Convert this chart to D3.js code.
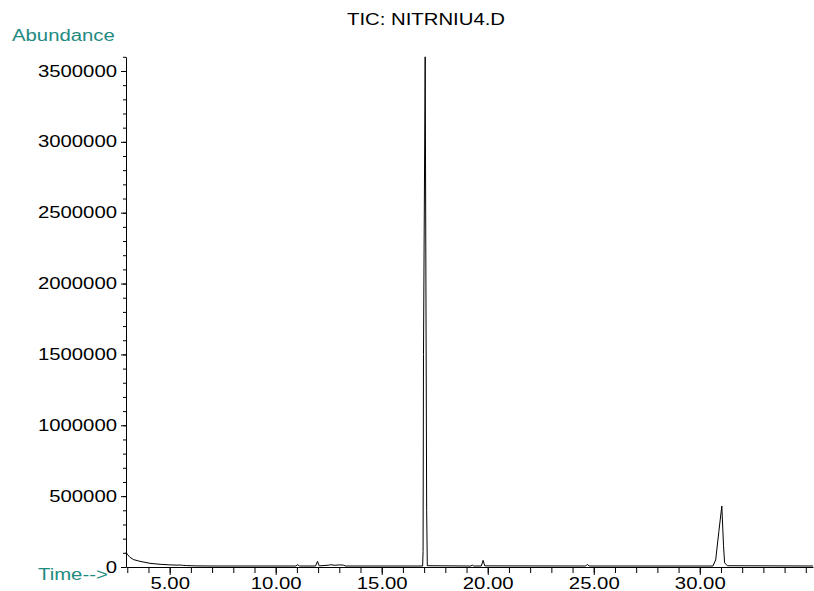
<!DOCTYPE html>
<html>
<head>
<meta charset="utf-8">
<script src="https://cdn.jsdelivr.net/npm/d3@7"></script>
<style>
  body { margin: 0; background: #fff; }
  text { font-family: "Liberation Sans", Arial, sans-serif; }
</style>
</head>
<body>
<div id="chart"></div>
<script>
// retention time (min) and abundance
const times = [2.94, 3.0, 3.13, 3.3, 3.6, 4.07, 4.55, 5.0, 5.35, 5.5, 5.6, 5.8, 6.2, 7.0,
  10.95, 11.04, 11.12, 11.88, 11.97, 12.05, 12.5, 12.6, 12.8, 13.0, 13.2, 13.3,
  16.93, 16.95, 16.97, 17.05, 17.12, 17.15,
  19.2, 19.27, 19.34, 19.7, 19.78, 19.86, 24.62, 24.7, 24.78,
  30.62, 30.75, 30.9, 31.04, 31.12, 31.17, 31.3, 35.34];
const abundance = [105000, 90000, 68000, 52000, 40000, 26000, 19000, 15000, 13000, 14000, 12000, 10000, 8000, 7000,
  7000, 16000, 7000, 7000, 40000, 8000, 13000, 16000, 12000, 15000, 13000, 7000,
  7000, 110000, 1500000, 3600000, 400000, 9000,
  7000, 13000, 7000, 7000, 47000, 8000, 7000, 19000, 7000,
  7000, 50000, 250000, 430000, 150000, 30000, 9000, 7000];

const yMajor = d3.range(0, 3500001, 500000);
const yMinor = d3.range(0, 3600001, 100000);
const xMajor = [5, 10, 15, 20, 25, 30];
const xMinor = d3.range(3, 36, 1);

const W = 814, H = 591;
const svg = d3.select('#chart').append('svg')
    .attr('width', W)
    .attr('height', H);

const x = d3.scaleLinear().domain([2.94, 35.34]).range([126, 813]);
const y = d3.scaleLinear().domain([0, 3600000]).range([567, 56.8]);

// y axis: minor then major
svg.append("g")
    .attr("transform", `translate(${x.range()[0]},0)`)
    .call(d3.axisLeft(y).tickValues(yMinor).tickSize(3).tickSizeOuter(0).tickFormat(""));
svg.append("g")
    .attr("transform", `translate(${x.range()[0]},0)`)
    .call(d3.axisLeft(y).tickValues(yMajor).tickSize(5).tickPadding(4).tickSizeOuter(0).tickFormat(d3.format("d")))
    .call(g => g.select(".domain").remove());

// x axis
svg.append("g")
    .attr("transform", `translate(0,${y(0)})`)
    .call(d3.axisBottom(x).tickValues(xMinor).tickSize(6).tickSizeOuter(0).tickFormat(""));
svg.append("g")
    .attr("transform", `translate(0,${y(0)})`)
    .call(d3.axisBottom(x).tickValues(xMajor).tickSize(8).tickPadding(3).tickSizeOuter(0).tickFormat(d3.format(".2f")))
    .call(g => g.select(".domain").remove());

svg.selectAll(".tick text")
    .attr("fill", "#000")
    .style("font-size", "16px");
svg.selectAll(".domain, .tick line").attr("stroke", "#000");

// trace
const pts = times.map((t, i) => [t, abundance[i]]);
svg.append("path")
    .datum(pts)
    .attr("fill", "none")
    .attr("stroke", "#000")
    .attr("stroke-width", 1)
    .attr("d", d3.line().x(d => x(d[0])).y(d => y(d[1])));

// labels
svg.append("text")
    .attr("x", 426).attr("y", 25)
    .attr("text-anchor", "middle")
    .style("font-size", "16px")
    .attr("fill", "#000")
    .text("TIC: NITRNIU4.D");

svg.append("text")
    .attr("x", 12).attr("y", 40.5)
    .style("font-size", "16px")
    .attr("fill", "#1e8a80")
    .text("Abundance");

svg.append("text")
    .attr("x", 38).attr("y", 580)
    .style("font-size", "16px")
    .attr("fill", "#1e8a80")
    .text("Time-->");

// the original's lettering is wider than Arial; stretch it
svg.selectAll("text").each(function() {
    const len = this.getComputedTextLength();
    d3.select(this)
        .attr("textLength", len * 1.27)
        .attr("lengthAdjust", "spacingAndGlyphs");
});
</script>
</body>
</html>
